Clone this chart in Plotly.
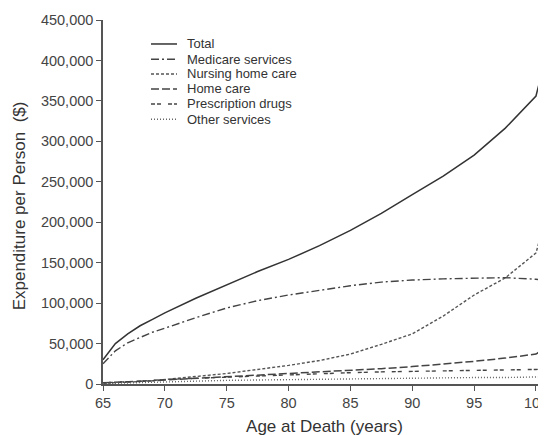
import plotly.graph_objects as go

# ---- data ----
age = [65, 66, 67, 68, 69, 70, 72.5, 75, 77.5, 80, 82.5, 85, 87.5, 90, 92.5, 95, 97.5, 100, 101]

total = [30000, 50000, 62000, 72000, 80000, 88000, 106000, 123000, 139000, 154000, 171000,
         190000, 211000, 234000, 257000, 283000, 316000, 356000, 417000]
medicare = [25000, 41000, 51000, 58000, 64000, 69000, 82000, 94000, 103000, 110000, 116000,
            121500, 126000, 128500, 130000, 131000, 131500, 129500, 127000]
nursing = [1000, 1500, 2000, 3000, 4000, 5500, 9000, 13000, 18000, 23000, 29000,
           37000, 49000, 62000, 84000, 110000, 131000, 162000, 218000]
home_care = [1500, 2000, 2500, 3500, 4000, 5000, 7000, 8500, 10500, 12500, 14500,
             16500, 19000, 21500, 24500, 28000, 32000, 37000, 47000]
drugs = [1500, 2000, 2500, 3500, 4500, 5500, 7000, 8500, 10000, 11500, 13000,
         14000, 15000, 15500, 16000, 16500, 17000, 18000, 19000]
other = [500, 1000, 1500, 2000, 2500, 3000, 3500, 4500, 5000, 5500, 6000,
         6500, 7000, 7000, 7500, 8000, 8000, 8500, 9000]

series_names = ["Total", "Medicare services", "Nursing home care", "Home care",
                "Prescription drugs", "Other services"]
series_values = [total, medicare, nursing, home_care, drugs, other]
series_dash = ["solid", "8px,3px,2px,3px", "3px,2px", "8px,3px", "4px,2px,4px,7px", "1px,2px"]
series_width = [1.5, 1.4, 1.4, 1.5, 1.4, 1.4]
series_color = ["#333333", "#444444", "#555555", "#444444", "#444444", "#666666"]

x_ticks = [65, 70, 75, 80, 85, 90, 95, 100]
y_ticks = [0, 50000, 100000, 150000, 200000, 250000, 300000, 350000, 400000, 450000]

FONT = "Liberation Sans, Arial, sans-serif"

fig = go.Figure()
for name, vals, dash, w, c in zip(series_names, series_values, series_dash, series_width, series_color):
    fig.add_trace(go.Scatter(x=age, y=vals, mode="lines", name=name,
                             line=dict(color=c, width=w, dash=dash), showlegend=False))

# ---- manual legend (compact row spacing like the reference) ----
# plot area in screen pixels: left 103, top 20, width 443, height 364.3
L, T, W, H = 103, 20, 443, 364.3
def px_x(p):
    return (p - L) / W
def px_y(p):
    return (T + H - p) / H

row_y = [44, 59.3, 74, 89, 104, 119.3]
for name, dash, w, c, ry in zip(series_names, series_dash, series_width, series_color, row_y):
    fig.add_shape(type="line", xref="paper", yref="paper",
                  x0=px_x(151), x1=px_x(177), y0=px_y(ry), y1=px_y(ry),
                  line=dict(color=c, width=w, dash=dash))
    fig.add_annotation(xref="paper", yref="paper", x=px_x(185), y=px_y(ry),
                       text=name, showarrow=False, xanchor="left", yanchor="middle",
                       font=dict(family=FONT, size=13, color="#333333"))

# y-axis title placed as a rotated annotation
fig.add_annotation(xref="paper", yref="paper", x=px_x(19), y=px_y(206.5),
                   text="Expenditure per Person  ($)", textangle=-90, showarrow=False,
                   xanchor="center", yanchor="middle",
                   font=dict(family=FONT, size=17, color="#333333"))

# the page body adds an 8px offset, so margins are shifted by 8px
fig.update_layout(
    width=546, height=435,
    margin=dict(l=95, r=8, t=12, b=58.7, autoexpand=False),
    paper_bgcolor="white", plot_bgcolor="white",
    font=dict(family=FONT, color="#444444"),
    showlegend=False,
)
fig.update_xaxes(
    range=[65, 100.81], tickvals=x_ticks, ticktext=[str(v) for v in x_ticks],
    automargin=False,
    showgrid=False, zeroline=False, showline=True, linecolor="#555555", linewidth=1.8,
    ticks="outside", ticklen=5, tickcolor="#555555", tickwidth=1.2,
    tickfont=dict(family=FONT, size=14.5, color="#444444"),
    title=dict(text="Age at Death (years)", font=dict(family=FONT, size=17, color="#333333"),
               standoff=10),
)
fig.update_yaxes(
    range=[0, 450000], tickvals=y_ticks, tickformat=",d",
    automargin=False,
    showgrid=False, zeroline=False, showline=True, linecolor="#555555", linewidth=1.5,
    ticks="outside", ticklen=5, tickcolor="#555555", tickwidth=1.2,
    tickfont=dict(family=FONT, size=14.5, color="#444444"),
)

fig.write_html("out.html")
